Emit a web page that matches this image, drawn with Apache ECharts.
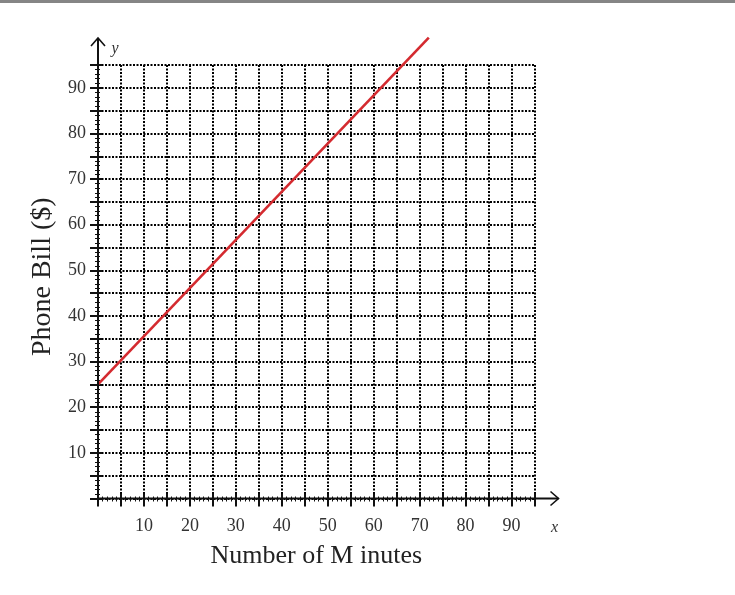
<!DOCTYPE html>
<html>
<head>
<meta charset="utf-8">
<script src="https://cdn.jsdelivr.net/npm/echarts@6/dist/echarts.min.js"></script>
<style>
html,body{margin:0;padding:0;background:#fff;}
#chart{width:735px;height:595px;}
</style>
</head>
<body>
<div id="chart"></div>
<script>
// Data
var minutes = [0, 72];
var bill = [25, 101];
var xTickLabels = [10, 20, 30, 40, 50, 60, 70, 80, 90];
var yTickLabels = [10, 20, 30, 40, 50, 60, 70, 80, 90];
var xTitle = 'Number of M inutes';
var yTitle = 'Phone Bill ($)';

var serif = '"Liberation Serif", "DejaVu Serif", serif';
var chart = echarts.init(document.getElementById('chart'));

function labelFmt(list) {
  return function (v) { return list.indexOf(v) >= 0 ? String(v) : ''; };
}

var gridLine = { show: true, lineStyle: { color: '#000', width: 2, type: [2, 1.5] } };

var option = {
  animation: false,
  backgroundColor: '#fff',
  grid: { left: 98, top: 65, right: 200.5, bottom: 96.5 },
  xAxis: [{
    type: 'value', min: 0, max: 95, interval: 5,
    axisLine: { show: false },
    axisTick: { show: true, length: 8, lineStyle: { color: '#111', width: 2 } },
    minorTick: { show: true, splitNumber: 5, length: 3, lineStyle: { color: '#111', width: 1 } },
    splitLine: gridLine,
    axisLabel: { formatter: labelFmt(xTickLabels), fontFamily: serif, fontSize: 18, color: '#333', margin: 19, showMaxLabel: true },
    name: xTitle, nameLocation: 'middle', nameGap: 45,
    nameTextStyle: { fontFamily: serif, fontSize: 26, color: '#222' }
  }, {
    type: 'value', min: 0, max: 95, interval: 5, position: 'bottom',
    axisLine: { show: false },
    axisTick: { show: true, inside: true, length: 5, lineStyle: { color: '#111', width: 2 } },
    minorTick: { show: true, splitNumber: 5, length: 2, lineStyle: { color: '#111', width: 1 } },
    splitLine: { show: false }, axisLabel: { show: false }
  }],
  yAxis: [{
    type: 'value', min: 0, max: 95, interval: 5,
    axisLine: { show: false },
    axisTick: { show: true, length: 8, lineStyle: { color: '#111', width: 2 } },
    minorTick: { show: true, splitNumber: 5, length: 3, lineStyle: { color: '#111', width: 1 } },
    splitLine: gridLine,
    axisLabel: { formatter: labelFmt(yTickLabels), fontFamily: serif, fontSize: 18, color: '#333', margin: 12 },
    name: yTitle, nameLocation: 'middle', nameGap: 40,
    nameTextStyle: { fontFamily: serif, fontSize: 28, color: '#222', padding: [0, 0, 0, 10] }
  }, {
    type: 'value', min: 0, max: 95, interval: 5, position: 'left',
    axisLine: { show: false },
    axisTick: { show: true, inside: true, length: 4, lineStyle: { color: '#111', width: 2 } },
    minorTick: { show: true, splitNumber: 5, length: 2, lineStyle: { color: '#111', width: 1 } },
    splitLine: { show: false }, axisLabel: { show: false }
  }],
  series: [{
    type: 'line',
    data: minutes.map(function (m, i) { return [m, bill[i]]; }),
    showSymbol: false,
    clip: false,
    z: 5,
    lineStyle: { color: '#d42a2f', width: 2.6 }
  }]
};
chart.setOption(option);

var o = chart.convertToPixel({ gridIndex: 0 }, [0, 0]);
var tr = chart.convertToPixel({ gridIndex: 0 }, [95, 95]);
var yTip = tr[1] - 27, xTip = tr[0] + 24;
chart.setOption({
  graphic: [
    { type: 'rect', shape: { x: 0, y: 0, width: 735, height: 3 }, style: { fill: '#858585' }, z: 10 },
    { type: 'polyline', shape: { points: [[o[0], o[1]], [o[0], yTip]] }, style: { stroke: '#111', lineWidth: 2, fill: null }, z: 6 },
    { type: 'polyline', shape: { points: [[o[0] - 7, yTip + 8], [o[0], yTip], [o[0] + 7, yTip + 8]] }, style: { stroke: '#111', lineWidth: 1.6, fill: null }, z: 6 },
    { type: 'polyline', shape: { points: [[o[0], o[1]], [xTip, o[1]]] }, style: { stroke: '#111', lineWidth: 2, fill: null }, z: 6 },
    { type: 'polyline', shape: { points: [[xTip - 8, o[1] - 7], [xTip, o[1]], [xTip - 8, o[1] + 7]] }, style: { stroke: '#111', lineWidth: 1.6, fill: null }, z: 6 },
    { type: 'text', style: { text: 'y', x: o[0] + 17, y: yTip + 11, font: 'italic 16px ' + serif, fill: '#333', textAlign: 'center', textVerticalAlign: 'middle' }, z: 6 },
    { type: 'text', style: { text: 'x', x: xTip - 4, y: o[1] + 29, font: 'italic 16px ' + serif, fill: '#333', textAlign: 'center', textVerticalAlign: 'middle' }, z: 6 }
  ]
});
</script>
</body>
</html>
